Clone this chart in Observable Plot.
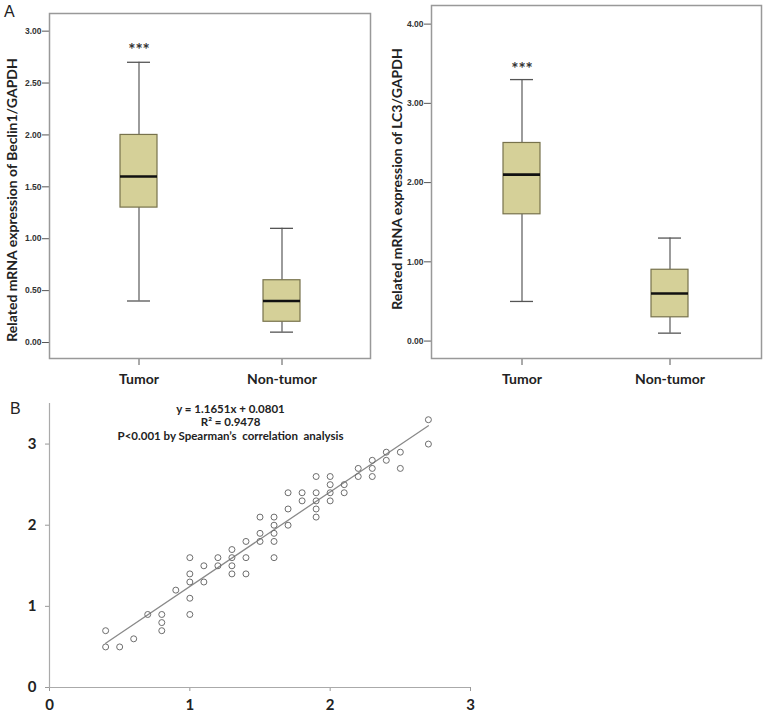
<!DOCTYPE html>
<html>
<head>
<meta charset="utf-8">
<script src="https://cdn.jsdelivr.net/npm/d3@7"></script>
<script src="https://cdn.jsdelivr.net/npm/@observablehq/plot@0.6"></script>
<style>
  html, body { margin: 0; padding: 0; background: #fff; }
  #root { position: relative; width: 766px; height: 720px; overflow: hidden; font-family: "Liberation Sans", Arial, sans-serif; }
  .panel { position: absolute; z-index: 1; }
  .letter { position: absolute; z-index: 5; font: 16px "Liberation Sans", Arial, sans-serif; color: #222; line-height: 1; }
  .box g[aria-label="y-axis tick label"] text { font: bold 8.5px "Liberation Sans Narrow", "Liberation Sans", sans-serif; fill: #333; }
  .box g[aria-label="x-axis tick label"] text { font: bold 14px Lato, "Liberation Sans", sans-serif; fill: #222; }
  .scatter g[aria-label="x-axis tick label"] text,
  .scatter g[aria-label="y-axis tick label"] text { font: bold 15px Lato, "Liberation Sans", sans-serif; fill: #222; }
</style>
</head>
<body>
<div id="root">
  <div class="letter" style="left:4px;top:4px;">A</div>
  <div class="letter" style="left:10px;top:401px;">B</div>
  <div id="p1" class="panel box" style="left:0px;top:0px;"></div>
  <div id="p2" class="panel box" style="left:380px;top:0px;"></div>
  <div id="p3" class="panel scatter" style="left:0px;top:390px;"></div>
</div>
<script>
// ---- Data ----
const groups = ["Tumor", "Non-tumor"];
const significance = ["***", ""];

// Beclin1/GAPDH box summaries (Tumor, Non-tumor)
const beclinMin = [0.4, 0.1];
const beclinQ1  = [1.3, 0.2];
const beclinMed = [1.6, 0.4];
const beclinQ3  = [2.0, 0.6];
const beclinMax = [2.7, 1.1];
const beclinTicks = [0, 0.5, 1.0, 1.5, 2.0, 2.5, 3.0];

// LC3/GAPDH box summaries (Tumor, Non-tumor)
const lc3Min = [0.5, 0.1];
const lc3Q1  = [1.6, 0.3];
const lc3Med = [2.1, 0.6];
const lc3Q3  = [2.5, 0.9];
const lc3Max = [3.3, 1.3];
const lc3Ticks = [0, 1, 2, 3, 4];

// Panel B scatter
const scatterX = [0.4,0.4,0.5,0.6,0.7,0.8,0.8,0.8,0.9,
  1.0,1.0,1.0,1.0,1.0,1.1,1.1,1.2,1.2,1.3,1.3,1.3,1.3,1.4,1.4,1.4,
  1.5,1.5,1.5,1.6,1.6,1.6,1.6,1.6,1.7,1.7,1.7,1.8,1.8,
  1.9,1.9,1.9,1.9,1.9,2.0,2.0,2.0,2.0,2.1,2.1,2.2,2.2,2.3,2.3,2.3,2.4,2.4,2.5,2.5,2.7,2.7];
const scatterY = [0.7,0.5,0.5,0.6,0.9,0.9,0.8,0.7,1.2,
  1.6,1.4,1.3,1.1,0.9,1.5,1.3,1.6,1.5,1.7,1.6,1.5,1.4,1.8,1.6,1.4,
  2.1,1.9,1.8,2.1,2.0,1.9,1.8,1.6,2.4,2.2,2.0,2.4,2.3,
  2.6,2.4,2.3,2.2,2.1,2.6,2.5,2.4,2.3,2.5,2.4,2.7,2.6,2.8,2.7,2.6,2.9,2.8,2.9,2.7,3.3,3.0];
const slope = 1.1651, intercept = 0.0801;
const annotation = ["y = 1.1651x + 0.0801", "R\u00b2 = 0.9478", "P<0.001 by Spearman\u2019s  correlation  analysis"];
const scatterTicks = [0, 1, 2, 3];

// ---- Box plot builder ----
function boxPanel({min, q1, med, q3, max, ticks, yDomain, label, width, height, margin, pad, labelDx, labelDy, sigDy}) {
  const rows = groups.map((g, i) => ({g, min: min[i], q1: q1[i], med: med[i], q3: q3[i], max: max[i], sig: significance[i]}));
  return Plot.plot({
    width, height,
    marginTop: margin[0], marginRight: margin[1], marginBottom: margin[2], marginLeft: margin[3],
    style: {background: "transparent", overflow: "visible"},
    x: {domain: groups, type: "band", paddingInner: pad[0], paddingOuter: pad[1], label: null},
    y: {domain: yDomain},
    marks: [
      Plot.axisY({ticks, tickFormat: d3.format(".2f"), tickSize: 7, tickPadding: 1, stroke: "#555", label: null}),
      Plot.axisX({tickSize: 7, tickPadding: 9, stroke: "#555", label: null}),
      Plot.text([label], {frameAnchor: "left", textAnchor: "middle", rotate: -90, dx: labelDx, dy: labelDy, text: d => d,
        fontSize: 14, fontWeight: "bold", fontFamily: "Lato, sans-serif", fill: "#222"}),
      Plot.ruleX(rows, {x: "g", y1: "min", y2: "q1", stroke: "#666", strokeWidth: 1.3}),
      Plot.ruleX(rows, {x: "g", y1: "q3", y2: "max", stroke: "#666", strokeWidth: 1.3}),
      Plot.tickY(rows, {x: "g", y: "min", stroke: "#555", strokeWidth: 1.3, insetLeft: 7, insetRight: 7}),
      Plot.tickY(rows, {x: "g", y: "max", stroke: "#555", strokeWidth: 1.3, insetLeft: 7, insetRight: 7}),
      Plot.barY(rows, {x: "g", y1: "q1", y2: "q3", fill: "#d5d098", stroke: "#77724c", strokeWidth: 1.2}),
      Plot.tickY(rows, {x: "g", y: "med", stroke: "#111", strokeWidth: 2.6}),
      Plot.text(rows, {x: "g", y: "max", text: "sig", dy: sigDy, fontSize: 17, fontWeight: "bold", fill: "#333", fontFamily: "Lato, sans-serif"}),
      Plot.frame({stroke: "#999", strokeWidth: 1.5})
    ]
  });
}

document.getElementById("p1").append(boxPanel({
  min: beclinMin, q1: beclinQ1, med: beclinMed, q3: beclinQ3, max: beclinMax,
  ticks: beclinTicks, yDomain: [-0.154, 3.17], label: "Related mRNA expression of Beclin1/GAPDH",
  width: 380, height: 392, margin: [13, 10, 34, 49], pad: [0.743, 0.49], labelDx: -37, labelDy: 14, sigDy: -12
}));

document.getElementById("p2").append(boxPanel({
  min: lc3Min, q1: lc3Q1, med: lc3Med, q3: lc3Q3, max: lc3Max,
  ticks: lc3Ticks, yDomain: [-0.22, 4.235], label: "Related mRNA expression of LC3/GAPDH",
  width: 386, height: 392, margin: [5, 5, 34, 51], pad: [0.747, 0.484], labelDx: -34, labelDy: -3, sigDy: -10
}));

// ---- Scatter ----
const pts = scatterX.map((x, i) => ({x, y: scatterY[i]}));
const xr = d3.extent(scatterX);
const fit = xr.map(x => ({x, y: slope * x + intercept}));

document.getElementById("p3").append(Plot.plot({
  width: 490, height: 330,
  marginTop: 13, marginRight: 20, marginBottom: 33, marginLeft: 49,
  style: {background: "transparent", overflow: "visible"},
  x: {domain: [0, 3]},
  y: {domain: [0, 3.5]},
  marks: [
    Plot.axisX({ticks: scatterTicks, tickFormat: d3.format("d"), tickSize: 4, tickPadding: 8, stroke: "#999", label: null}),
    Plot.axisY({ticks: scatterTicks, tickFormat: d3.format("d"), tickSize: 4, tickPadding: 9, stroke: "#999", label: null}),
    Plot.ruleY([0], {stroke: "#aaa", strokeWidth: 1.2}),
    Plot.ruleX([0], {stroke: "#aaa", strokeWidth: 1.2}),
    Plot.line(fit, {x: "x", y: "y", stroke: "#8a8a8a", strokeWidth: 1.3}),
    Plot.dot(pts, {x: "x", y: "y", r: 3, stroke: "#6e6e6e", strokeWidth: 1, fill: "none"}),
    Plot.text(annotation, {x: () => 1.29, y: (d, i) => 3.43 - i * 0.165, text: d => d,
      fontSize: 11.5, fontWeight: "bold", fontFamily: "Lato, sans-serif", fill: "#222"})
  ]
}));
</script>
</body>
</html>
